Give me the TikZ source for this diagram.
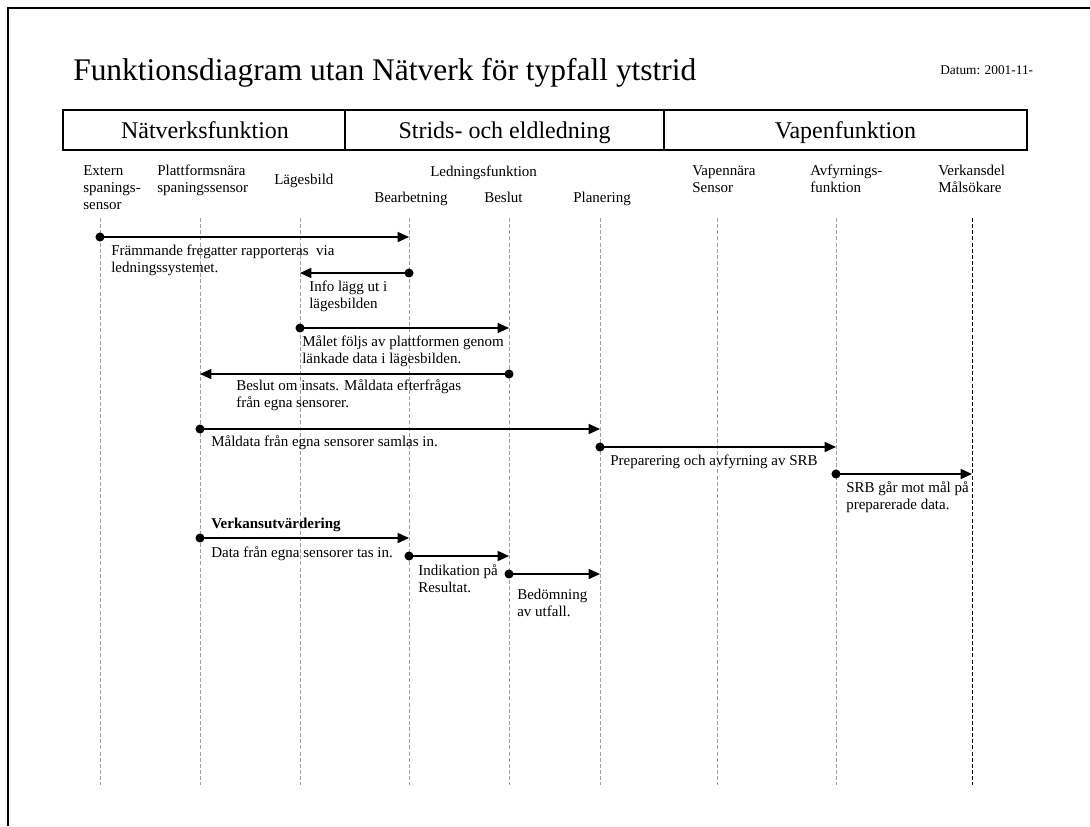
\documentclass[tikz,border=0pt]{standalone}
\usepackage{fontspec}
\setmainfont{Liberation Serif}
\usetikzlibrary{arrows.meta}

\tikzset{
  lifeline/.style={gray!75, line width=0.7pt, dash pattern=on 3pt off 1.6pt},
  msg/.style={line width=1.2pt, -{Triangle[length=8.5pt,width=7.5pt]}},
  % anchored on the baseline of the last line of text
  lbl/.style={anchor=base west, inner sep=0pt, align=left,
              font=\fontsize{11.25}{12.4}\selectfont},
  hdr/.style={anchor=base, inner sep=0pt, font=\fontsize{18}{20}\selectfont},
}

% one message: dot on lifeline #1, arrow to lifeline #2 at height #3, named #4
\newcommand\msgarrow[4]{%
  \path (L#1) ++(0,{#3-218}) coordinate (#4-a);
  \path (L#2) ++(0,{#3-218}) coordinate (#4-b);
  \draw[msg] (#4-a) -- (#4-b);
  \fill (#4-a) circle[radius=3.4pt];
}
\def\ls{16.5}

\begin{document}
\begin{tikzpicture}[x=0.75pt, y=-0.75pt]
\useasboundingbox (0,0) rectangle (1090,826);

% page frame (left and top edges)
\draw[line width=1.6pt] (8,826) -- (8,8) -- (1090,8);

% title and date
\node[anchor=base west, inner sep=0pt, font=\fontsize{23.6}{26}\selectfont] (title) at (73,80)
  {Funktionsdiagram utan Nätverk för typfall ytstrid};
\node[anchor=base west, inner sep=0pt, font=\fontsize{10}{12}\selectfont] (datum) at (940,74)
  {Datum: 2001-11-};

% function header table
\draw[line width=0.8pt] (63,110) rectangle (1027,150);
\draw[line width=0.8pt] (345,110) -- (345,150) (664,110) -- (664,150);
\node[hdr] (h1) at (205,138) {Nätverksfunktion};
\node[hdr] (h2) at (504.5,138) {Strids- och eldledning};
\node[hdr] (h3) at (845.5,138) {Vapenfunktion};

% lifelines
\foreach \i/\x in {1/100, 2/200, 3/300, 4/409, 5/509, 6/600, 7/717, 8/836, 9/972} {
  \coordinate (L\i) at (\x,218);
  \coordinate (L\i-end) at (\x,785);
}
\foreach \i in {1,...,8} \draw[lifeline] (L\i) -- (L\i-end);
\draw[lifeline, black] (L9) -- (L9-end);

% column labels
\node[lbl] (c1) at (83,{176+2*\ls}) {Extern\\spanings-\\sensor};
\node[lbl] (c2) at (157,{176+\ls}) {Plattformsnära\\spaningssensor};
\node[lbl] (c3) at (274,184) {Lägesbild};
\node[lbl] (c4) at (430,176) {Ledningsfunktion};
\node[lbl] (c5) at (374,202) {Bearbetning};
\node[lbl] (c6) at (484,202) {Beslut};
\node[lbl] (c7) at (573,202) {Planering};
\node[lbl] (c8) at (692,{176+\ls}) {Vapennära\\Sensor};
\node[lbl] (c9) at (810,{176+\ls}) {Avfyrnings-\\funktion};
\node[lbl] (c10) at (938,{176+\ls}) {Verkansdel\\Målsökare};

% messages
\msgarrow{1}{4}{237}{m1}
\node[lbl] (t1) at (111,{256+\ls}) {Främmande fregatter rapporteras\ \ via\\ledningssystemet.};
\msgarrow{4}{3}{273}{m2}
\node[lbl] (t2) at (309,{292+\ls}) {Info lägg ut i\\lägesbilden};
\msgarrow{3}{5}{328}{m3}
\node[lbl] (t3) at (302,{347+\ls}) {Målet följs av plattformen genom\\länkade data i lägesbilden.};
\msgarrow{5}{2}{374}{m4}
\node[lbl] (t4) at (236,{391+\ls}) {Beslut om insats. Måldata efterfrågas\\från egna sensorer.};
\msgarrow{2}{6}{429}{m5}
\node[lbl] (t5) at (211,446) {Måldata från egna sensorer samlas in.};
\msgarrow{6}{8}{447}{m6}
\node[lbl] (t6) at (610,465) {Preparering och avfyrning av SRB};
\msgarrow{8}{9}{474}{m7}
\node[lbl] (t7) at (846,{493+\ls}) {SRB går mot mål på\\preparerade data.};

\node[lbl, font=\fontsize{11.25}{12.4}\selectfont\bfseries] (t8h) at (211,528) {Verkansutvärdering};
\msgarrow{2}{4}{538}{m8}
\node[lbl] (t8) at (211,557) {Data från egna sensorer tas in.};
\msgarrow{4}{5}{556}{m9}
\node[lbl] (t9) at (418,{576+\ls}) {Indikation på\\Resultat.};
\msgarrow{5}{6}{574}{m10}
\node[lbl] (t10) at (517,{600+\ls}) {Bedömning\\av utfall.};
\end{tikzpicture}
\end{document}
